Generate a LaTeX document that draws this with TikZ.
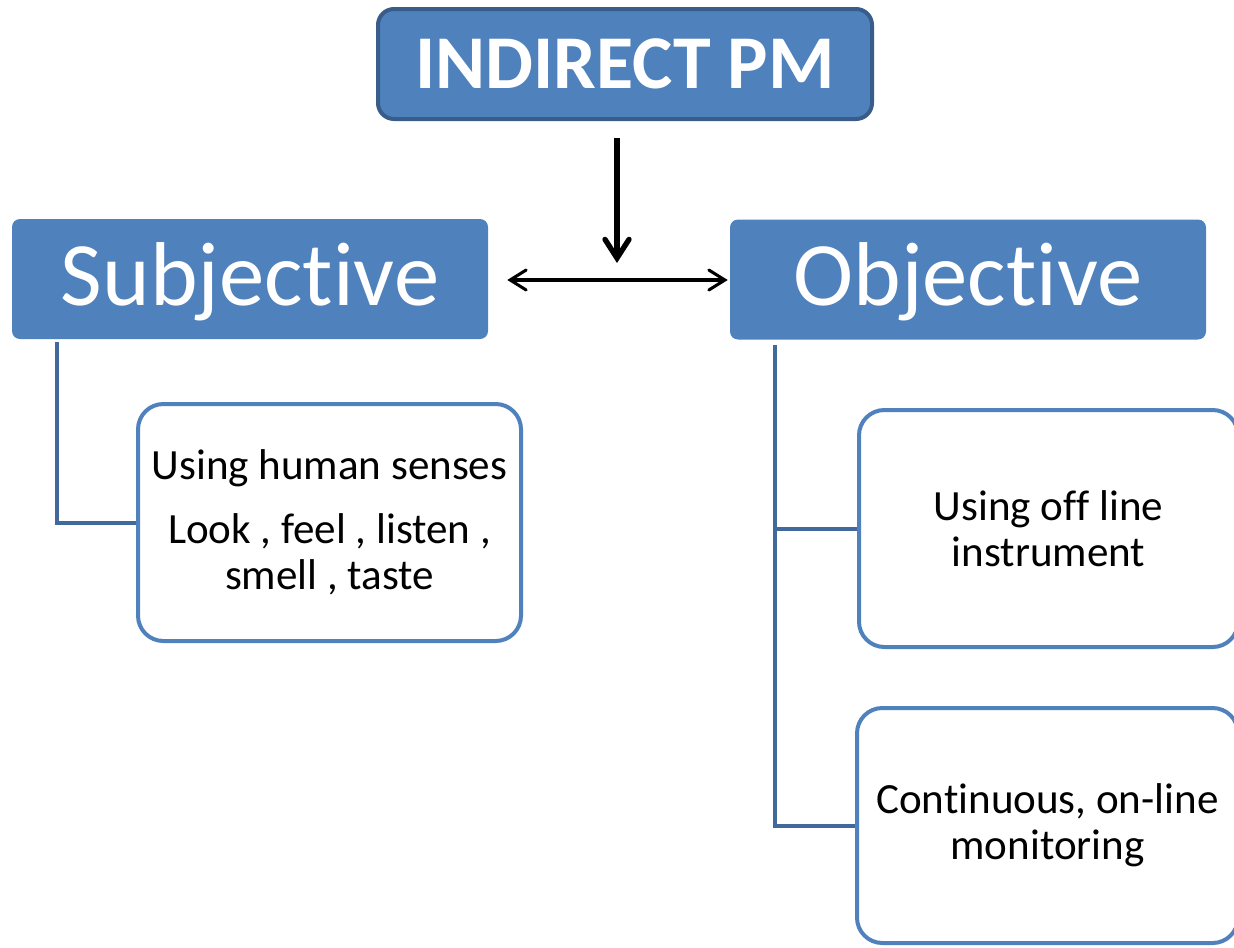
\documentclass[tikz,border=0pt]{standalone}
\usepackage{fontspec}
\setmainfont{Carlito}[Ligatures={NoCommon,NoContextual,NoRare}]
\usetikzlibrary{arrows.meta,calc}
\definecolor{boxblue}{HTML}{4F81BD}
\definecolor{boxedge}{HTML}{385D8A}
\definecolor{linkblue}{HTML}{41699C}
% break a ligature between two letters
\newcommand{\nolig}{\kern0pt{}}

\begin{document}
\begin{tikzpicture}[x=0.75pt,y=-0.75pt,
  headbox/.style={draw=boxedge, line width=3pt, fill=boxblue, rounded corners=12pt,
    minimum width=370.5pt, minimum height=82.5pt, inner sep=0pt, text=white,
    font=\fontsize{57}{60}\selectfont\bfseries, text height=40pt, text depth=4pt},
  catbox/.style={fill=boxblue, rounded corners=6pt, minimum width=357pt,
    minimum height=90pt, inner sep=0pt, text=white,
    font=\fontsize{68}{72}\selectfont, text height=45pt, text depth=6pt},
  itembox/.style={draw=boxblue, line width=3pt, fill=white, rounded corners=19pt,
    inner sep=0pt, align=center, text=black, font=\fontsize{32.3}{34.5}\selectfont},
  link/.style={draw=linkblue, line width=3pt},
  downarrow/.style={draw=black, line width=4pt,
    -{Straight Barb[length=14pt,width=18pt,line cap=round]}},
  twoway/.style={draw=black, line width=2.3pt,
    {Straight Barb[length=12pt,width=15pt,line cap=round]}-{Straight Barb[length=12pt,width=15pt,line cap=round]}}
]
\useasboundingbox (0,0) rectangle (1234,947);

% top-level heading
\node[headbox] (top) at (625,64) {INDIRECT PM};

% the two categories
\node[catbox] (sub) at (250,279) {Subject\nolig ive};
\node[catbox] (obj) at (968,279.5) {Object\nolig ive};

% sub-items
\node[itembox, minimum width=287.25pt, minimum height=177.75pt] (c1) at (329.5,522.5)
  {Using human senses\\[13.5pt]Look , feel , listen ,\\smell , taste};
\node[itembox, minimum width=284.25pt, minimum height=177.75pt] (c2) at (1048.5,528.5)
  {Using of\nolig f line\\instrument};
\node[itembox, minimum width=285.75pt, minimum height=176.25pt] (c3) at (1047.5,825.5)
  {Cont\nolig inuous, on-line\\monitoring};

% arrows between heading and categories
\coordinate (hub) at (617,280);
\draw[downarrow] ($(top.south)+(-8,17)$) -- ($(hub)+(0,-17)$);
\draw[twoway] ($(sub.east)+(19,1)$) -- ($(obj.west)+(-2,0.5)$);

% tree connectors
\draw[link] ($(sub.south west)+(45,3)$) |- (c1.west);
\coordinate (trunk) at ($(obj.south west)+(45,5)$);
\draw[link] (trunk) |- (c3.west);
\draw[link] (trunk |- c2.west) -- (c2.west);
\end{tikzpicture}
\end{document}
